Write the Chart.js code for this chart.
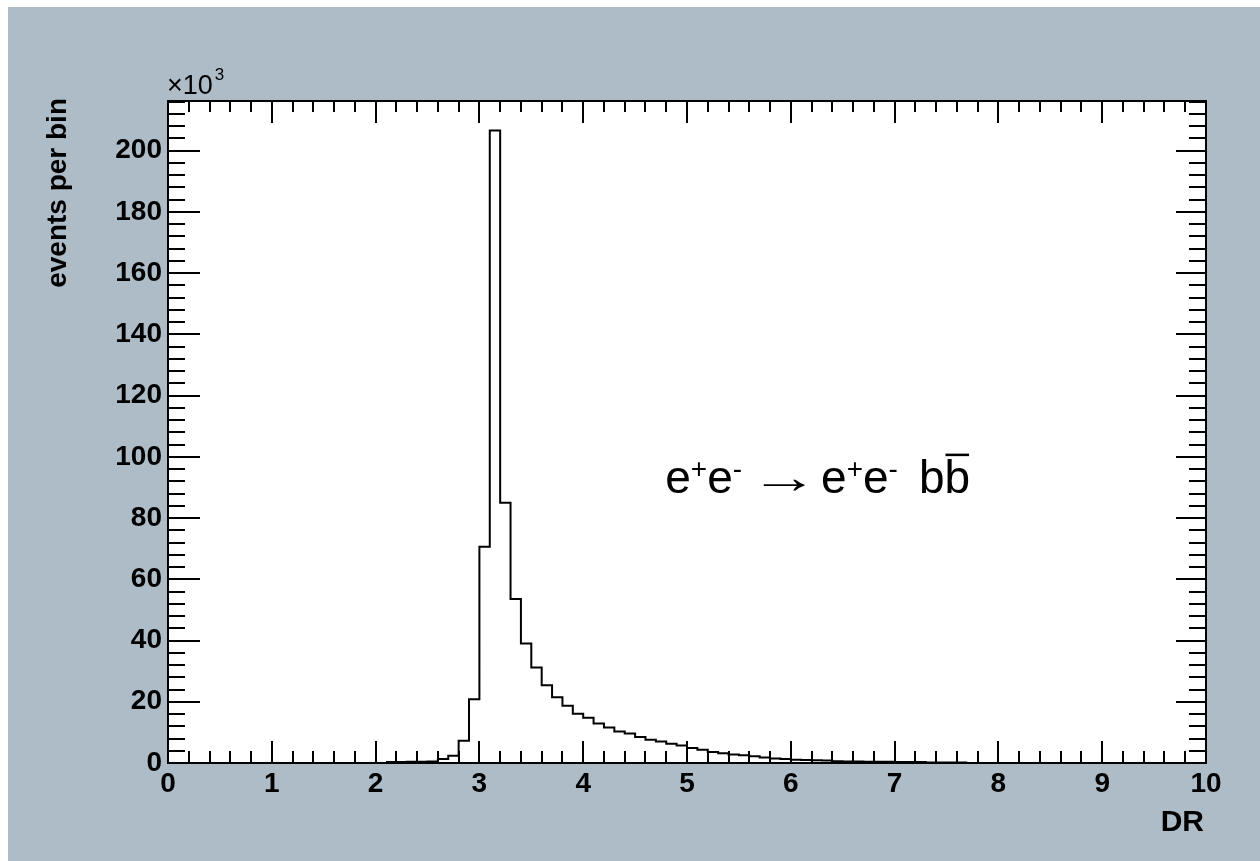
<!DOCTYPE html>
<html>
<head>
<meta charset="utf-8">
<script src="https://cdn.jsdelivr.net/npm/chart.js@4.4.0/dist/chart.umd.min.js"></script>
<style>
  html, body { margin: 0; padding: 0; background: #ffffff; }
  #wrap { width: 1260px; height: 861px; }
</style>
</head>
<body>
<div id="wrap"><canvas id="myChart" width="1260" height="861"></canvas></div>
<script>
// histogram binning (DR), bins of 0.1 starting at 2.1
var binStart = 2.1;
var binWidth = 0.1;
// events per bin, in thousands
var counts = [
    0.3, 0.3, 0.4, 0.4, 0.5, 1.3, 2.4, 7.3, 20.8,
    70.6, 206.6, 85.0, 53.6, 39.0, 31.2, 25.4, 21.5, 18.7, 16.1,
    14.8, 12.9, 11.6, 10.3, 9.6, 8.5, 7.6, 7.0, 6.3, 5.7,
    4.9, 4.3, 3.6, 3.2, 2.8, 2.5, 2.2, 1.8, 1.5, 1.3,
    1.1, 1.0, 0.9, 0.8, 0.6, 0.5, 0.5, 0.4, 0.4, 0.4,
    0.3, 0.3, 0.3, 0.2, 0.2, 0.2, 0.2
];
var xRange = [0, 10];
var yRange = [0, 216.2];
var xMajorStep = 1, xMinorStep = 0.2;
var yMajorStep = 20, yMinorStep = 4;

var bgColour = '#aebcc7';
var fontFamily = '"Liberation Sans", Arial, sans-serif';

// build the step outline points from the bins
var points = [];
for (var i = 0; i < counts.length; i++) {
    points.push({ x: Math.round((binStart + i * binWidth) * 100) / 100, y: counts[i] });
}
points.push({ x: Math.round((binStart + counts.length * binWidth) * 100) / 100, y: counts[counts.length - 1] });

function drawPieces(ctx, pieces, x, y) {
    pieces.forEach(function (p) {
        ctx.font = (p.sup ? '28px ' : '46px ') + fontFamily;
        var sx = p.stretch || 1;
        var w = ctx.measureText(p.t).width * sx;
        if (sx !== 1) {
            ctx.save();
            ctx.translate(x, y);
            ctx.scale(sx, 1);
            ctx.fillText(p.t, 0, 0);
            ctx.restore();
        } else {
            ctx.fillText(p.t, x, p.sup ? y - 15 : y);
        }
        if (p.bar) {
            ctx.fillRect(x + 1, y - 39, w - 2, 2.5);
        }
        x += w + (p.gap || 0);
    });
}

var rootStyle = {
    id: 'rootStyle',
    beforeDraw: function (chart) {
        var ctx = chart.ctx;
        var a = chart.chartArea;
        ctx.save();
        ctx.fillStyle = '#ffffff';
        ctx.fillRect(0, 0, chart.width, chart.height);
        ctx.fillStyle = bgColour;
        ctx.fillRect(8, 7, chart.width - 8, chart.height - 7);
        ctx.fillStyle = '#ffffff';
        ctx.fillRect(a.left, a.top, a.right - a.left, a.bottom - a.top);
        ctx.restore();
    },
    afterDraw: function (chart) {
        var ctx = chart.ctx;
        var a = chart.chartArea;
        var xs = chart.scales.x;
        var ys = chart.scales.y;
        ctx.save();
        ctx.strokeStyle = '#000000';
        ctx.lineWidth = 2;
        ctx.strokeRect(a.left, a.top, a.right - a.left, a.bottom - a.top);

        // x ticks, bottom and top, pointing inwards
        ctx.beginPath();
        for (var k = 0; k <= Math.round((xRange[1] - xRange[0]) / xMinorStep); k++) {
            var v = xRange[0] + k * xMinorStep;
            var px = Math.round(xs.getPixelForValue(v));
            var major = k % Math.round(xMajorStep / xMinorStep) === 0;
            ctx.moveTo(px, a.bottom);
            ctx.lineTo(px, a.bottom - (major ? 22 : 12));
            ctx.moveTo(px, a.top);
            ctx.lineTo(px, a.top + (major ? 22 : 11));
        }
        // y ticks, left and right
        for (var j = 0; j * yMinorStep <= yRange[1]; j++) {
            var vy = j * yMinorStep;
            var py = Math.round(ys.getPixelForValue(vy));
            var ymajor = j % Math.round(yMajorStep / yMinorStep) === 0;
            ctx.moveTo(a.left, py);
            ctx.lineTo(a.left + (ymajor ? 32 : 17), py);
            ctx.moveTo(a.right, py);
            ctx.lineTo(a.right - (ymajor ? 30 : 17), py);
        }
        ctx.stroke();

        ctx.fillStyle = '#000000';
        // axis titles
        ctx.font = 'bold 30px ' + fontFamily;
        ctx.textAlign = 'right';
        ctx.textBaseline = 'alphabetic';
        ctx.fillText('DR', a.right - 2, 831);

        ctx.save();
        ctx.translate(66, a.top - 3);
        ctx.rotate(-Math.PI / 2);
        ctx.font = 'bold 28px ' + fontFamily;
        ctx.fillText('events per bin', 0, 0);
        ctx.restore();

        // exponent of the y axis
        ctx.textAlign = 'left';
        ctx.font = '27px ' + fontFamily;
        ctx.fillText('\u00d710', a.left - 1, 94);
        var w10 = ctx.measureText('\u00d710').width;
        ctx.font = '17px ' + fontFamily;
        ctx.fillText('3', a.left + w10 + 1, 80);

        // process label
        drawPieces(ctx, [
            { t: 'e' }, { t: '+', sup: true }, { t: 'e' }, { t: '-', sup: true, gap: 8 },
            { t: '\u2192', stretch: 1.5, gap: 2 },
            { t: 'e' }, { t: '+', sup: true }, { t: 'e' }, { t: '-', sup: true, gap: 21 },
            { t: 'b' }, { t: 'b', bar: true }
        ], xs.getPixelForValue(4.79), ys.getPixelForValue(88.3));
        ctx.restore();
    }
};

var chart = new Chart(document.getElementById('myChart'), {
    type: 'line',
    data: {
        datasets: [{
            label: 'DR',
            data: points,
            stepped: true,
            borderColor: '#000000',
            borderWidth: 2,
            pointRadius: 0,
            fill: false,
            tension: 0
        }]
    },
    options: {
        responsive: false,
        animation: false,
        devicePixelRatio: 1,
        layout: {
            padding: { left: 0, top: 101, right: 54, bottom: 0 }
        },
        plugins: {
            legend: { display: false },
            tooltip: { enabled: false }
        },
        scales: {
            x: {
                type: 'linear',
                min: xRange[0],
                max: xRange[1],
                grid: { display: false, drawTicks: false },
                border: { display: false },
                ticks: {
                    stepSize: xMajorStep,
                    padding: 4,
                    maxRotation: 0,
                    color: '#000000',
                    font: { family: fontFamily, size: 28, weight: 'bold' }
                },
                afterFit: function (scale) { scale.height = 98; }
            },
            y: {
                type: 'linear',
                min: yRange[0],
                max: yRange[1],
                grid: { display: false, drawTicks: false },
                border: { display: false },
                afterBuildTicks: function (scale) {
                    scale.ticks = scale.ticks.filter(function (t) { return t.value % yMajorStep === 0; });
                },
                ticks: {
                    stepSize: yMajorStep,
                    padding: 6,
                    color: '#000000',
                    font: { family: fontFamily, size: 28, weight: 'bold' }
                },
                afterFit: function (scale) { scale.width = 168; }
            }
        }
    },
    plugins: [rootStyle]
});
</script>
</body>
</html>
